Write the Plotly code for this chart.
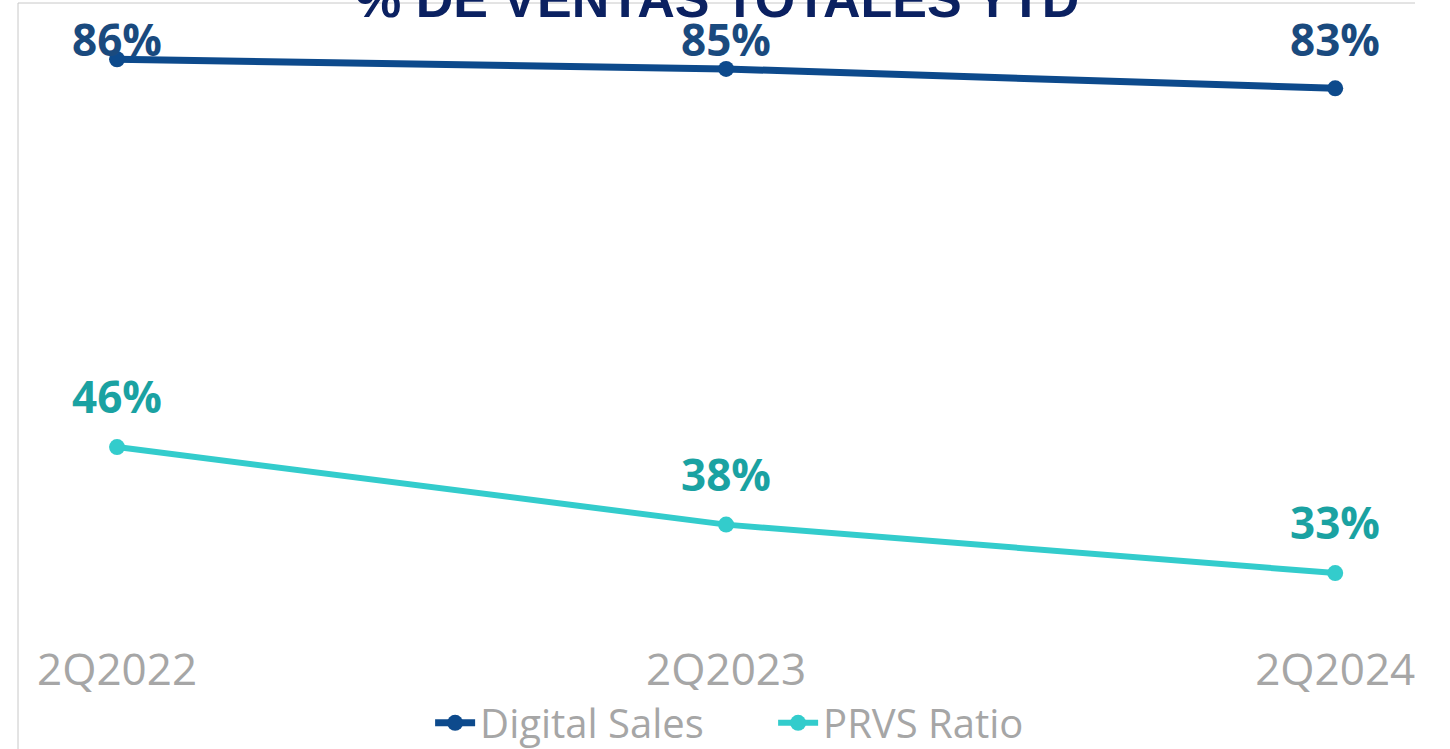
"""% de ventas totales YTD: Digital Sales vs PRVS Ratio."""
import plotly.graph_objects as go

# datos
periodos = ["2Q2022", "2Q2023", "2Q2024"]
digital_sales = [86, 85, 83]
prvs_ratio = [46, 38, 33]
titulo = "% DE VENTAS TOTALES YTD"

COLORS = {
    "digital": "#0d4a8c",
    "digital_txt": "#1a4a7e",
    "prvs": "#33cccc",
    "prvs_txt": "#1aa2a2",
    "gray": "#a6a6a6",
    "border": "#c8c8c8",
    "title": "#0b2161",
}

fig = go.Figure()

fig.add_trace(go.Scatter(
    x=periodos, y=digital_sales,
    mode="lines+markers",
    name="Digital Sales",
    line=dict(color=COLORS["digital"], width=7),
    marker=dict(color=COLORS["digital"], size=16),
))
fig.add_trace(go.Scatter(
    x=periodos, y=prvs_ratio,
    mode="lines+markers",
    name="PRVS Ratio",
    line=dict(color=COLORS["prvs"], width=6),
    marker=dict(color=COLORS["prvs"], size=16),
))

# etiquetas de datos
annotations = []
for p, v in zip(periodos, digital_sales):
    # Excel empuja estas etiquetas hacia abajo para que quepan en el área
    annotations.append(dict(
        x=p, y=0.893, xref="x", yref="paper", yanchor="bottom",
        text=f"{v}%", showarrow=False,
        font=dict(family="Open Sans", size=44, color=COLORS["digital_txt"], weight="bold"),
    ))
for p, v in zip(periodos, prvs_ratio):
    annotations.append(dict(
        x=p, y=v, xref="x", yref="y", yanchor="bottom", yshift=19,
        text=f"{v}%", showarrow=False,
        font=dict(family="Open Sans", size=44, color=COLORS["prvs_txt"], weight="bold"),
    ))

# título (recortado por el borde superior)
annotations.append(dict(
    x=0.5, y=1.006, xref="paper", yref="paper", yanchor="middle",
    text=f"<b>{titulo}</b>", showarrow=False,
    font=dict(family="Liberation Sans", size=52, color=COLORS["title"]),
))

# borde del área del gráfico
shapes = [
    dict(type="line", xref="paper", yref="paper", x0=0, x1=0, y0=1, y1=-0.25,
         line=dict(color=COLORS["border"], width=1)),
    dict(type="line", xref="paper", yref="paper", x0=0, x1=1, y0=1, y1=1,
         line=dict(color=COLORS["border"], width=1)),
]

fig.update_layout(
    width=1450, height=749,
    paper_bgcolor="white", plot_bgcolor="white",
    margin=dict(l=18, r=35, t=3, b=109, autoexpand=False),
    showlegend=True,
    legend=dict(
        orientation="h", x=0.295, xanchor="left", y=-0.13, yanchor="middle",
        font=dict(family="Open Sans", size=40, color=COLORS["gray"]),
        itemwidth=40, entrywidth=288,
    ),
    annotations=annotations,
    shapes=shapes,
)
fig.update_xaxes(
    type="category", range=[-0.1626, 2.131],
    showgrid=False, zeroline=False, showline=False, ticks="",
    tickfont=dict(family="Open Sans", size=44, color=COLORS["gray"]),
)
fig.update_yaxes(
    range=[26.1, 91.8], visible=False, showgrid=False, zeroline=False,
)

fig.write_html(
    "out.html",
    config={"displayModeBar": False},
    post_script="document.body.style.margin = '0';",
)
